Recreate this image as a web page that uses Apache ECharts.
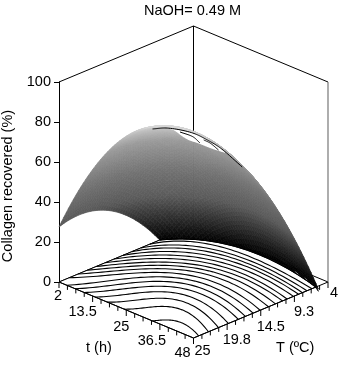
<!DOCTYPE html>
<html><head><meta charset="utf-8">
<style>html,body{margin:0;padding:0;background:#fff}#c{width:352px;height:367px}</style>
<script src="https://cdn.jsdelivr.net/npm/echarts@6/dist/echarts.min.js"></script>
</head><body><div id="c"></div>
<script>
const titleText = 'NaOH= 0.49 M';
const zName = 'Collagen recovered (%)';
const tName = 't (h)';
const TName = 'T (ºC)';
const tTicks = [2, 13.5, 25, 36.5, 48];
const TTicks = [25, 19.8, 14.5, 9.3, 4];
const tGrid = [2, 13.5, 25, 36.5, 48];
const TGrid = [4, 9.25, 14.5, 19.75, 25];
// recovered collagen (%); rows follow tGrid, columns TGrid
const zAt2 = [-29.7, -0.1, 19.3, 28.5, 27.5];
const zAt13 = [-8.1, 25, 48, 60.6, 63.2];
const zAt25 = [-1, 38.2, 64.6, 80.8, 86.9];
const zAt36 = [-3, 39.3, 69, 89, 98.6];
const zAt48 = [-15.1, 28.6, 62, 85.3, 98.4];
// floor contour lines as [t, T]
const contours = [
 [[34,25],[35.15,24.2],[36.6,23.45],[40.6,23.1],[48,24.2]],
 [[24.3,25],[27.5,22.9],[31.25,21],[37,20.7],[48,22.67]],
 [[18.5,25],[22.9,22.1],[28,19.5],[35,19],[48,21.1]],
 [[14.4,25],[19.3,21.4],[25.3,18.3],[33.4,17.5],[48,19.55]],
 [[10.6,25],[16.2,20.9],[23,17.3],[32.2,16.1],[48,18]],
 [[7.5,25],[13.6,20.4],[20.98,16.33],[30.9,15],[48,16.9]],
 [[4.7,25],[11.1,19.9],[19.1,15.5],[29.9,13.9],[48,15.7]],
 [[2,23.4],[9.2,18.8],[17.3,14.6],[28.8,12.9],[48,14.6]],
 [[2,22],[8.3,17.7],[15.6,13.9],[27.9,11.8],[48,13.3]],
 [[2,20.6],[7.6,16.7],[14.2,13.2],[27.1,10.9],[48,12.2]],
 [[2,19.2],[6.9,15.7],[12.8,12.6],[26.4,10.05],[48,11.1]],
 [[2,17.8],[6.2,14.7],[11.3,11.9],[25.5,9.25],[48,10.4]],
 [[2,16.4],[5.5,13.6],[9.9,11.3],[24.7,8.4],[48,9.4]],
 [[2,15],[4.8,12.6],[8.45,10.6],[23.8,7.6],[48,8.6]],
 [[2,13.6],[4.1,11.6],[7,9.95],[22.9,6.9],[48,8]],
 [[2,12.2],[3.6,10.65],[5.8,9.4],[22.2,6.2],[48,7.3]],
 [[2,10.8],[2.9,9.6],[4.35,8.75],[21.3,5.4],[48,6.5]],
 [[2,9.3],[3.8,7.7],[13.2,5.3],[22.7,4.3],[34.5,4.5],[48,5.9]]
];
// black level arcs near the summit as [t, T, z]
const summitArc = [[34,25,96],[39,25,99.5],[38.8,20.9,91.4],[48,22.8,96],[48,20.8,89.4],[48,17.4,75.4]];
const summitArcB = [[38.8,22.9,94.6],[41.1,21.9,92.2],[48,24,96.2]];
const summitArcC = [[48,23.4,96.9],[48,22.4,94],[48,21.1,88.8]];
const openEdge = [[41,25,100],[46,25,98],[48,24.4,96.7],[48,22.4,91.5],[48,20,85.8]];

const zGrid = [zAt2, zAt13, zAt25, zAt36, zAt48];
const SUB = 14;
function cr(a, s) {
  const n = a.length, i = Math.min(Math.floor(s), n - 2), f = s - i;
  const p0 = i > 0 ? a[i-1] : 3*a[0]-3*a[1]+a[2];
  const p1 = a[i], p2 = a[i+1];
  const p3 = i < n-2 ? a[i+2] : 3*a[n-1]-3*a[n-2]+a[n-3];
  return 0.5*((2*p1)+(-p0+p2)*f+(2*p0-5*p1+4*p2-p3)*f*f+(-p0+3*p1-3*p2+p3)*f*f*f);
}
const M = 4*SUB;
const fine = [];
for (let i = 0; i <= M; i++) {
  const row = [];
  for (let j = 0; j <= M; j++) {
    const c = zGrid.map(r => cr(r, j/SUB));
    row.push(cr(c, i/SUB));
  }
  fine.push(row);
}
const tAt = i => 2 + 46*i/M, TAt = j => 4 + 21*j/M;

function project(api, t, T, z) {
  const tf = (t-2)/46, Tf = (25-T)/21;
  return api.coord([tf+Tf, z + 28*(Tf-tf)]);
}
function smooth(P) {
  if (P.length < 3) return P;
  const out = [], n = P.length;
  const g = i => P[Math.max(0, Math.min(n-1, i))];
  for (let i = 0; i < n-1; i++) {
    let p0 = g(i-1), p1 = g(i), p2 = g(i+1), p3 = g(i+2);
    if (i === 0) p0 = [2*p1[0]-p2[0], 2*p1[1]-p2[1]];
    if (i === n-2) p3 = [2*p2[0]-p1[0], 2*p2[1]-p1[1]];
    const d = (a,b) => Math.sqrt(Math.hypot(a[0]-b[0], a[1]-b[1])) || 1e-3;
    const t0 = 0, t1 = t0+d(p0,p1), t2 = t1+d(p1,p2), t3 = t2+d(p2,p3);
    for (let k = 0; k < 14; k++) {
      const t = t1+(t2-t1)*k/14;
      const L = (a,b,ta,tb) => [a[0]+(b[0]-a[0])*(t-ta)/(tb-ta), a[1]+(b[1]-a[1])*(t-ta)/(tb-ta)];
      const A1=L(p0,p1,t0,t1),A2=L(p1,p2,t1,t2),A3=L(p2,p3,t2,t3);
      const B1=L(A1,A2,t0,t2),B2=L(A2,A3,t1,t3);
      out.push(L(B1,B2,t1,t2));
    }
  }
  out.push(P[n-1]);
  return out;
}
// smooth curve through a contour's end points, best fit to its inner points
function fair(P) {
  const a = P[0], b = P[P.length-1], W = b[0]-a[0];
  let s11=0,s12=0,s22=0,r1=0,r2=0;
  P.slice(1,-1).forEach(p=>{
    const s=(p[0]-a[0])/W, r=p[1]-(a[1]+(b[1]-a[1])*s), f1=s*(1-s), f2=f1*(s-.5);
    s11+=f1*f1; s12+=f1*f2; s22+=f2*f2; r1+=f1*r; r2+=f2*r;
  });
  const det=s11*s22-s12*s12, c1=(r1*s22-r2*s12)/det, c2=(r2*s11-r1*s12)/det;
  const out=[];
  for(let i=0;i<=48;i++){
    const s=i/48,f1=s*(1-s);
    out.push([a[0]+W*s,a[1]+(b[1]-a[1])*s+c1*f1+c2*f1*(s-.5)]);
  }
  return out;
}
const stops = [[0,0],[13,40],[30,90],[50,115],[75,155],[96,215],[110,225]];
function gray(z) {
  z = Math.max(0, z);
  for (let i = 1; i < stops.length; i++) {
    if (z <= stops[i][0]) {
      const a = stops[i-1], b = stops[i];
      const g = Math.round(a[1]+(b[1]-a[1])*(z-a[0])/(b[0]-a[0]));
      return 'rgb('+g+','+g+','+g+')';
    }
  }
  return 'rgb(225,225,225)';
}
// cells, far ones first
const cells = [];
for (let i = 0; i < M; i++) for (let j = 0; j < M; j++) {
  const zs = [fine[i][j], fine[i+1][j], fine[i+1][j+1], fine[i][j+1]];
  if (Math.max(...zs) <= 0) continue;
  const d = tAt(i+.5)/46 + TAt(j+.5)/21;
  cells.push([i, j, d]);
}
cells.sort((a,b) => a[2]-b[2]);

const ink = '#000';
const line = (pts, w, c) => ({type:'polyline', shape:{points:pts}, style:{stroke:c||ink, lineWidth:w||1, fill:null}, silent:true});

const backEdges = [
  [[2,25,100],[2,4,100],[48,4,100]],
  [[2,4,0],[2,4,100]],
  [[2,25,0],[2,4,0],[48,4,0]]
];
const tOffsets = [[-1,14],[-10,16],[-5,17],[-8,17],[-11,15]];
const TOffsets = [[9,13],[10,16],[10,17],[10,16],[6,11]];

const option = {
  animation:false,
  grid:{left:59,right:24,top:82,bottom:85,outerBoundsMode:'none'},
  title:{text:titleText,left:187.5,top:-2,textAlign:'center',textStyle:{fontFamily:'Liberation Sans',fontSize:14.5,fontWeight:'normal',color:'#000'}},
  xAxis:{type:'value',min:0,max:2,show:false},
  yAxis:{type:'value',min:0,max:100,interval:20,name:zName,nameLocation:'middle',nameGap:38,
    nameTextStyle:{fontFamily:'Liberation Sans',fontSize:14.5,color:'#000',padding:[0,8,0,0]},
    axisLine:{show:true,lineStyle:{color:ink,width:1}},
    axisTick:{show:true,length:5,lineStyle:{color:ink,width:1}},
    axisLabel:{fontFamily:'Liberation Sans',fontSize:14.5,color:'#000',margin:8},
    splitLine:{show:false}},
  series:[
    {type:'custom',clip:false,silent:true,data:backEdges.map((e,i)=>[i]),encode:{},
      renderItem:(p,api)=>line(backEdges[p.dataIndex].map(q=>project(api,q[0],q[1],q[2])))},
    {type:'custom',clip:false,silent:true,data:[[0]],encode:{},
      renderItem:(p,api)=>line([project(api,48,4,0),project(api,48,4,100)],1.2,'#777')},
    {type:'custom',clip:false,silent:true,progressive:0,data:cells.map((c,i)=>[i]),encode:{},
      renderItem:(p,api)=>{
        const c = cells[p.dataIndex], i=c[0], j=c[1];
        const pts=[[i,j],[i+1,j],[i+1,j+1],[i,j+1]].map(q=>project(api,tAt(q[0]),TAt(q[1]),fine[q[0]][q[1]]));
        const col=gray((fine[i][j]+fine[i+1][j+1])/2);
        return {type:'polygon',shape:{points:pts},style:{fill:col,stroke:col,lineWidth:0.7},silent:true};
      }},
    {type:'custom',clip:false,silent:true,data:[[0]],encode:{},
      renderItem:(p,api)=>{
        const proj=a=>a.map(q=>project(api,q[0],q[1],q[2]));
        const lower=smooth(proj(openEdge));
        const upper=smooth(proj(summitArc.slice(1,5))).reverse();
        return {type:'polygon',shape:{points:lower.concat(upper)},style:{fill:'#fff'},silent:true};
      }},
    {type:'custom',clip:false,silent:true,data:[[0]],encode:{},
      renderItem:(p,api)=>{
        const outer=fair(contours[contours.length-1].map(q=>project(api,q[0],q[1],0)));
        const pts=outer.concat([project(api,48,25,0),project(api,2,25,0)]);
        return {type:'polygon',shape:{points:pts},style:{fill:'#fff',stroke:ink,lineWidth:1},silent:true};
      }},
    {type:'custom',clip:false,silent:true,data:contours.map((c,i)=>[i]),encode:{},
      renderItem:(p,api)=>line(fair(contours[p.dataIndex].map(q=>project(api,q[0],q[1],0))),1.1)},
    {type:'custom',clip:false,silent:true,data:[[0],[1],[2]],encode:{},
      renderItem:(p,api)=>line(smooth([summitArc,summitArcB,summitArcC][p.dataIndex].map(q=>project(api,q[0],q[1],q[2]))))},
    {type:'custom',clip:false,silent:true,data:[[0],[1]],encode:{},
      renderItem:(p,api)=>{
        const a=p.dataIndex?[48,4,0]:[2,25,0];
        return line([project(api,48,25,0),project(api,a[0],a[1],a[2])]);
      }},
    {type:'custom',clip:false,silent:true,data:Array.from({length:17},(_,i)=>[i]),encode:{},
      renderItem:(p,api)=>{
        const t=2+46*p.dataIndex/16, maj=p.dataIndex%4===0?3:2.2;
        return line([project(api,t,25,0),project(api,t,25,-maj)]);
      }},
    {type:'custom',clip:false,silent:true,data:Array.from({length:17},(_,i)=>[i]),encode:{},
      renderItem:(p,api)=>{
        const T=25-21*p.dataIndex/16, maj=p.dataIndex%4===0?3:2.2;
        return line([project(api,48,T,0),project(api,48,T,-maj)]);
      }},
    {type:'custom',clip:false,silent:true,data:tTicks.map((v,i)=>[i]),encode:{},
      renderItem:(p,api)=>{
        const v=tTicks[p.dataIndex],o=tOffsets[p.dataIndex],q=project(api,v,25,0);
        return {type:'text',style:{x:q[0]+o[0],y:q[1]+o[1],text:String(v),font:'14.5px "Liberation Sans"',fill:'#000',align:'center',verticalAlign:'middle'},silent:true};
      }},
    {type:'custom',clip:false,silent:true,data:TTicks.map((v,i)=>[i]),encode:{},
      renderItem:(p,api)=>{
        const v=TTicks[p.dataIndex],o=TOffsets[p.dataIndex],q=project(api,48,v,0);
        return {type:'text',style:{x:q[0]+o[0],y:q[1]+o[1],text:String(v),font:'14.5px "Liberation Sans"',fill:'#000',align:'center',verticalAlign:'middle'},silent:true};
      }}
  ],
  graphic:[
    {type:'text',left:86,top:340,style:{text:tName,font:'14.5px "Liberation Sans"',fill:'#000'}},
    {type:'text',left:276,top:340,style:{text:TName,font:'14.5px "Liberation Sans"',fill:'#000'}}
  ]
};
echarts.init(document.getElementById('c'),null,{renderer:'canvas'}).setOption(option);
</script></body></html>
